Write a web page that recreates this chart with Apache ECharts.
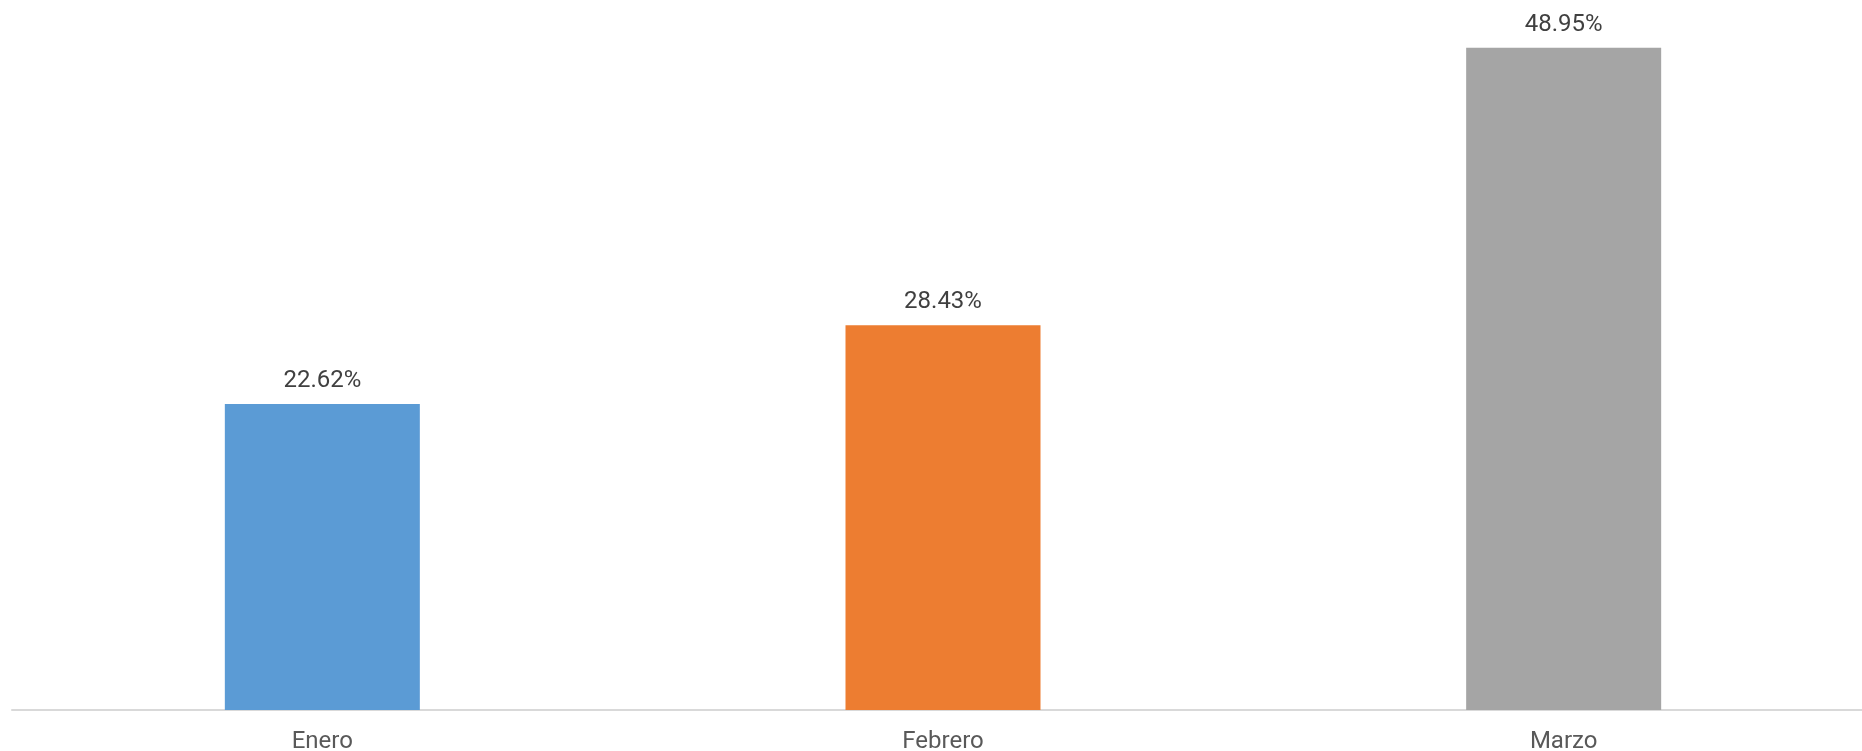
<!DOCTYPE html>
<html>
<head>
<meta charset="utf-8">
<script src="https://cdn.jsdelivr.net/npm/echarts@6/dist/echarts.min.js"></script>
<style>
html,body{margin:0;padding:0;background:#fff;}
#chart{width:1862px;height:751px;}
</style>
</head>
<body>
<div id="chart"></div>
<script>
const categories = ['Enero', 'Febrero', 'Marzo'];
const values = [22.62, 28.43, 48.95];
const barColors = ['#5B9BD5', '#ED7D31', '#A5A5A5'];

const chart = echarts.init(document.getElementById('chart'));
chart.setOption({
  animation: false,
  backgroundColor: '#ffffff',
  grid: { left: 12, top: 33.5, width: 1862, bottom: 41, containLabel: false, outerBoundsMode: 'none' },
  xAxis: {
    type: 'category',
    data: categories,
    axisLine: { lineStyle: { color: '#d9d9d9', width: 2 } },
    axisTick: { show: false },
    axisLabel: { color: '#595959', fontSize: 24, fontFamily: 'Roboto', margin: 20 }
  },
  yAxis: {
    type: 'value',
    min: 0,
    max: 50,
    show: false,
    splitLine: { show: false }
  },
  series: [{
    type: 'bar',
    barWidth: 195,
    data: values.map((v, i) => ({ value: v, itemStyle: { color: barColors[i] } })),
    label: {
      show: true,
      position: 'top',
      distance: 11,
      color: '#404040',
      fontSize: 24,
      fontFamily: 'Roboto',
      formatter: p => p.value.toFixed(2) + '%'
    }
  }]
});
</script>
</body>
</html>
